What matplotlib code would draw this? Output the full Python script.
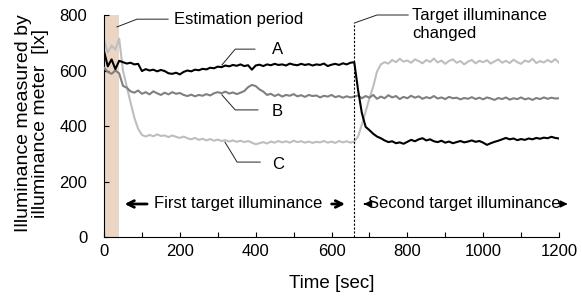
import matplotlib.pyplot as plt
import numpy as np

plt.rcParams['font.family'] = ['Liberation Sans', 'DejaVu Sans']
plt.rcParams['font.size'] = 12

# time axis, one sample every 10 s
time = np.arange(0, 1201, 10)

# illuminance [lx]
lum_a = [670, 615, 640, 605, 635, 630, 625, 628, 622, 624,
         598, 605, 600, 603, 597, 602, 598, 590, 588, 592,
         586, 595, 600, 597, 603, 601, 606, 604, 610, 608,
         614, 612, 618, 615, 620, 617, 622, 616, 619, 603,
         618, 621, 616, 622, 619, 624, 620, 622, 618, 625,
         621, 619, 624, 620, 623, 618, 622, 620, 625, 616,
         621, 624, 620, 626, 622, 628, 630, 530, 447, 397,
         385, 372, 362, 356, 348, 342, 345, 338, 341, 336,
         343, 350, 345, 352, 356, 348, 352, 345, 342, 347,
         340, 344, 338, 342, 346, 341, 344, 348, 343, 346,
         340, 332, 338, 343, 347, 352, 357, 352, 355, 349,
         353, 350, 355, 352, 357, 354, 358, 356, 361, 357,
         355]
lum_b = [610, 595, 588, 600, 590, 545, 538, 525, 520, 528,
         516, 522, 514, 525, 518, 512, 520, 514, 522, 516,
         519, 512, 508, 513, 507, 512, 509, 515, 510, 518,
         522, 518, 524, 517, 521, 515, 520, 526, 540, 548,
         544, 532, 524, 512, 516, 508, 514, 506, 512, 509,
         515, 507, 511, 505, 512, 508, 510, 503, 509, 506,
         512, 504, 508, 502, 507, 503, 506, 510, 500, 508,
         502, 512, 498, 506, 500, 511, 503, 508, 497, 505,
         500, 509, 502, 507, 498, 504, 500, 508, 499, 503,
         497, 505, 500, 502, 496, 501, 498, 504, 497, 502,
         496, 503, 499, 494, 501, 497, 503, 495, 500, 497,
         503, 496, 500, 494, 501, 497, 503, 498, 502, 499,
         500]
lum_c = [710, 665, 690, 675, 715, 600, 542, 485, 430, 390,
         368, 362, 368, 363, 370, 364, 366, 360, 366, 361,
         357, 362, 356, 352, 357, 350, 354, 348, 353, 347,
         351, 346, 349, 344, 348, 343, 347, 342, 346, 340,
         334, 338, 342, 337, 344, 340, 346, 341, 345, 340,
         347, 342, 345, 340, 344, 339, 343, 341, 346, 340,
         344, 339, 346, 341, 345, 340, 344, 362, 405, 452,
         500, 542, 596, 622, 630, 625, 638, 630, 642, 632,
         636, 628, 640, 634, 626, 638, 631, 643, 629, 636,
         624, 635, 640, 628, 634, 622, 632, 638, 626, 635,
         630, 637, 625, 633, 640, 628, 635, 627, 639, 630,
         624, 636, 631, 642, 627, 634, 629, 638, 630, 641,
         628]

est_end = 40      # estimation period [sec]
t_change = 660    # target illuminance changed [sec]

fig = plt.figure(figsize=(5.82, 2.96), dpi=100)
ax = fig.add_axes([0.1787, 0.1993, 0.7818, 0.75])

ax.axvspan(0, est_end, color='#EBD6C6', lw=0, zorder=0)
ax.plot(time, lum_c, color='#BEBEBE', lw=1.5, zorder=2)
ax.plot(time, lum_b, color='#808080', lw=1.5, zorder=3)
ax.plot(time, lum_a, color='black', lw=1.5, zorder=4)
ax.plot([t_change, t_change], [0, 771], color='black', lw=0.8,
        ls=(0, (2, 1.5)), zorder=5)

ax.set_xlim(0, 1200)
ax.set_ylim(0, 800)
ax.set_xticks(np.arange(0, 1201, 200))
ax.set_xticks(np.arange(0, 1201, 100), minor=True)
ax.set_yticks(np.arange(0, 801, 200))
ax.tick_params(axis='both', which='both', direction='in', length=3.5, width=0.8)
ax.tick_params(axis='x', pad=5)
ax.tick_params(axis='y', pad=12)
for s in ['top', 'right']:
    ax.spines[s].set_visible(False)
for s in ['left', 'bottom']:
    ax.spines[s].set_linewidth(0.8)

lk = dict(color='#222222', lw=0.7, clip_on=False, zorder=6)
# leader lines
ax.plot([34, 87, 169], [757, 785, 785], **lk)
ax.text(185, 785, 'Estimation period', va='center', ha='left')
ax.plot([311, 346, 398], [620, 677, 677], **lk)
ax.text(457, 677, 'A', va='center', ha='center')
ax.plot([311, 346, 406], [512, 458, 458], **lk)
ax.text(457, 452, 'B', va='center', ha='center')
ax.plot([319, 351, 412], [342, 270, 270], **lk)
ax.text(459, 263, 'C', va='center', ha='center')
ax.plot([t_change, 720, 802], [771, 800, 800], **lk)
ax.text(812, 800, 'Target illuminance', va='center', ha='left', clip_on=False)
ax.text(812, 735, 'changed', va='center', ha='left', clip_on=False)

# period arrows
ax.text(355, 119, 'First target illuminance', va='center', ha='center')
ap = dict(arrowstyle='->', lw=2, color='black', mutation_scale=12)
ax.annotate('', xy=(47, 119), xytext=(121, 119), arrowprops=ap)
ax.annotate('', xy=(643, 119), xytext=(593, 119), arrowprops=ap)
ax.text(697, 119, 'Second target illuminance', va='center', ha='left', clip_on=False)
ap2 = dict(arrowstyle='-|>', lw=1.5, color='black', mutation_scale=9)
ax.annotate('', xy=(678, 119), xytext=(696, 119), arrowprops=ap2)
ax.annotate('', xy=(1230, 119), xytext=(1206, 119), arrowprops=ap2,
            annotation_clip=False)

fig.text(32 / 582, 1 - 123 / 296, 'Illuminance measured by\nilluminance meter  [lx]',
         rotation=90, ha='center', va='center', linespacing=1.0, fontsize=14)
fig.text(332 / 582, 1 - 284 / 296, 'Time [sec]', ha='center', va='center',
         fontsize=13.5)

fig.savefig('out.png', dpi=100)
